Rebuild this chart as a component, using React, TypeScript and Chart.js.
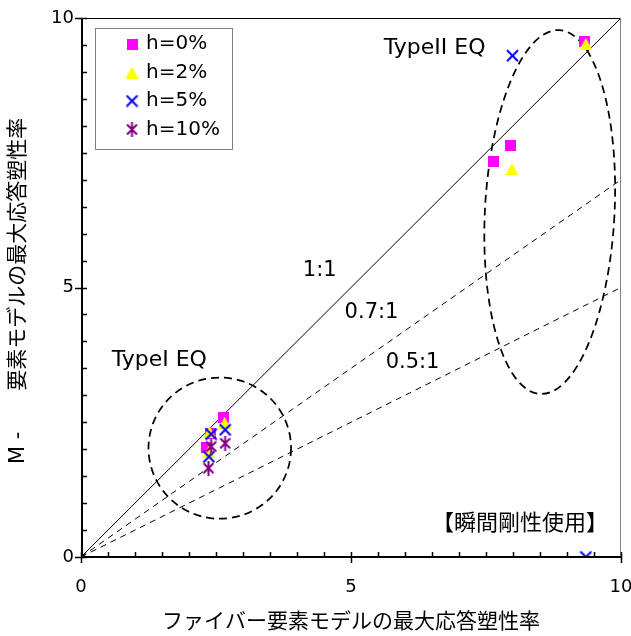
import { useEffect, useRef } from "react";
import { Chart, registerables } from "chart.js";

Chart.register(...registerables);

// Series: maximum ductility ratio (fiber model on x, M-N element model on y)
const seriesLabels = ["h=0%", "h=2%", "h=5%", "h=10%"];
const h0X = [2.64, 2.40, 2.33, 9.33, 7.96, 7.63];
const h0Y = [2.59, 2.30, 2.04, 9.57, 7.64, 7.34];
const h2X = [2.66, 2.38, 2.36, 9.35, 7.98];
const h2Y = [2.49, 2.32, 1.95, 9.52, 7.20];
const h5X = [2.67, 2.41, 2.37, 7.99, 9.35];
const h5Y = [2.36, 2.28, 1.86, 9.30, 0.0];
const h10X = [2.67, 2.41, 2.36];
const h10Y = [2.11, 2.05, 1.65];

// Reference ratio lines y = r * x
const ratioLabels = ["1:1", "0.7:1", "0.5:1"];
const ratioValues = [1, 0.7, 0.5];

// Axis range and labelled ticks
const axisMin = 0;
const axisMax = 10;
const tickValues = [0, 5, 10];
const minorStep = 0.5;

const xTitle = "ファイバー要素モデルの最大応答塑性率";
const yTitle = "M - 　  要素モデルの最大応答塑性率 ";

// Earthquake groups, outlined by dashed ellipses (data units)
const eqGroups = [
  { label: "TypeI EQ", cx: 2.57, cy: 2.02, rx: 1.32, ry: 1.31, rot: 0, lx: 1.45, ly: 3.65 },
  { label: "TypeII EQ", cx: 8.68, cy: 6.4, rx: 1.2, ry: 3.38, rot: 3, lx: 6.55, ly: 9.44 },
];

// Free text notes placed in data units
const notes = [
  { text: ratioLabels[0], x: 4.42, y: 5.32, size: 21 },
  { text: ratioLabels[1], x: 5.38, y: 4.53, size: 21 },
  { text: ratioLabels[2], x: 6.14, y: 3.6, size: 21 },
  { text: "【瞬間剛性使用】", x: 8.13, y: 0.65, size: 22 },
];

const FONT = "'DejaVu Sans', 'Noto Sans CJK JP', sans-serif";
const JP_FONT = "'Noto Sans CJK JP', 'DejaVu Sans', sans-serif";

function markerCanvas(kind: string, color: string): HTMLCanvasElement {
  const c = document.createElement("canvas");
  const g = c.getContext("2d") as CanvasRenderingContext2D;
  if (kind === "square") {
    c.width = 11; c.height = 11;
    g.fillStyle = color;
    g.fillRect(0, 0, 11, 11);
  } else if (kind === "triangle") {
    c.width = 13; c.height = 12;
    g.fillStyle = color;
    g.beginPath();
    g.moveTo(6.5, 0);
    g.lineTo(13, 12);
    g.lineTo(0, 12);
    g.closePath();
    g.fill();
  } else if (kind === "x") {
    c.width = 13; c.height = 13;
    g.strokeStyle = color;
    g.lineWidth = 2;
    g.beginPath();
    g.moveTo(1, 1); g.lineTo(12, 12);
    g.moveTo(12, 1); g.lineTo(1, 12);
    g.stroke();
  } else {
    c.width = 13; c.height = 15;
    g.strokeStyle = color;
    g.lineWidth = 2;
    g.beginPath();
    g.moveTo(6.5, 0); g.lineTo(6.5, 15);
    g.moveTo(1.5, 2.5); g.lineTo(11.5, 12.5);
    g.moveTo(11.5, 2.5); g.lineTo(1.5, 12.5);
    g.stroke();
  }
  return c;
}

function pts(xs: number[], ys: number[]) {
  return xs.map((x, i) => ({ x, y: ys[i] }));
}

export default function App() {
  const ref = useRef<HTMLCanvasElement | null>(null);

  useEffect(() => {
    if (!ref.current) return;
    const markers = [
      markerCanvas("square", "#FF00FF"),
      markerCanvas("triangle", "#FFFF00"),
      markerCanvas("x", "#0000FF"),
      markerCanvas("asterisk", "#800080"),
    ];
    const series = [pts(h0X, h0Y), pts(h2X, h2Y), pts(h5X, h5Y), pts(h10X, h10Y)];

    const scatterSets = series.map((data, i) => ({
      type: "scatter" as const,
      label: seriesLabels[i],
      data,
      pointStyle: markers[i],
      pointRadius: 6,
      order: 4 - i,
      showLine: false,
    }));

    const lineSets = ratioValues.map((r, i) => ({
      type: "line" as const,
      label: ratioLabels[i],
      data: [
        { x: axisMin, y: axisMin * r },
        { x: axisMax, y: axisMax * r },
      ],
      borderColor: "#000",
      borderWidth: 1,
      borderDash: r === 1 ? [] : [6, 5],
      pointRadius: 0,
      fill: false,
      order: 10 + i,
    }));

    const decor = {
      id: "decor",
      beforeDatasetsDraw(chart: any) {
        const { ctx, scales } = chart;
        const xs = scales.x, ys = scales.y;
        ctx.save();
        ctx.strokeStyle = "#000";
        ctx.lineWidth = 1.75;
        ctx.setLineDash([8, 5]);
        eqGroups.forEach((g) => {
          const px = xs.getPixelForValue(g.cx);
          const py = ys.getPixelForValue(g.cy);
          const rx = Math.abs(xs.getPixelForValue(g.cx + g.rx) - px);
          const ry = Math.abs(ys.getPixelForValue(g.cy + g.ry) - py);
          ctx.beginPath();
          ctx.ellipse(px, py, rx, ry, (g.rot * Math.PI) / 180, 0, Math.PI * 2);
          ctx.stroke();
        });
        ctx.restore();
      },
      afterDatasetsDraw(chart: any) {
        const { ctx, scales } = chart;
        const xs = scales.x, ys = scales.y;
        ctx.save();
        ctx.fillStyle = "#000";
        ctx.textAlign = "center";
        ctx.textBaseline = "middle";
        ctx.font = `22px ${FONT}`;
        eqGroups.forEach((g) => {
          ctx.fillText(g.label, xs.getPixelForValue(g.lx), ys.getPixelForValue(g.ly));
        });
        notes.forEach((n) => {
          const fam = /[^\x00-\x7f]/.test(n.text) ? JP_FONT : FONT;
          ctx.font = `${n.size}px ${fam}`;
          ctx.fillText(n.text, xs.getPixelForValue(n.x), ys.getPixelForValue(n.y));
        });
        ctx.restore();
      },
      afterDraw(chart: any) {
        const { ctx, scales, chartArea } = chart;
        const xs = scales.x, ys = scales.y;
        const { left, right, top, bottom } = chartArea;
        ctx.save();
        // frame
        ctx.lineWidth = 1;
        ctx.strokeStyle = "#000";
        ctx.beginPath();
        ctx.moveTo(left, top + 0.5);
        ctx.lineTo(right, top + 0.5);
        ctx.stroke();
        ctx.strokeStyle = "#808080";
        ctx.beginPath();
        ctx.moveTo(right - 0.5, top);
        ctx.lineTo(right - 0.5, bottom);
        ctx.stroke();
        // axes
        ctx.strokeStyle = "#000";
        ctx.lineWidth = 2;
        ctx.beginPath();
        ctx.moveTo(left, bottom);
        ctx.lineTo(right, bottom);
        ctx.moveTo(left + 1, top);
        ctx.lineTo(left + 1, bottom);
        ctx.stroke();
        // tick marks
        ctx.lineWidth = 1.5;
        ctx.beginPath();
        const n = Math.round((axisMax - axisMin) / minorStep);
        for (let i = 0; i <= n; i++) {
          const v = axisMin + i * minorStep;
          const major = tickValues.includes(v);
          const px = Math.round(xs.getPixelForValue(v)) + 0.5;
          ctx.moveTo(px, bottom - 5);
          ctx.lineTo(px, bottom + (major ? 6 : 0));
          const py = Math.round(ys.getPixelForValue(v)) + 0.5;
          ctx.moveTo(left + 6, py);
          ctx.lineTo(left - (major ? 6 : 0), py);
        }
        ctx.stroke();
        // legend
        const bx = 95, by = 28, bw = 137, bh = 121;
        ctx.fillStyle = "#fff";
        ctx.fillRect(bx, by, bw, bh);
        ctx.strokeStyle = "#808080";
        ctx.lineWidth = 1;
        ctx.strokeRect(bx + 0.5, by + 0.5, bw, bh);
        ctx.fillStyle = "#000";
        ctx.font = `20px ${FONT}`;
        ctx.textAlign = "left";
        ctx.textBaseline = "middle";
        seriesLabels.forEach((lab, i) => {
          const cy = by + 16 + i * 28.5;
          const m = markers[i];
          ctx.drawImage(m, 132 - m.width / 2, cy - m.height / 2);
          ctx.fillText(lab, 146, cy);
        });
        ctx.restore();
      },
    };

    const chart = new Chart(ref.current, {
      type: "scatter",
      data: { datasets: [...scatterSets, ...lineSets] as any },
      options: {
        animation: false,
        responsive: false,
        layout: { padding: { top: 18, right: 10, left: 0, bottom: 0 } },
        plugins: { legend: { display: false }, tooltip: { enabled: false } },
        scales: {
          x: {
            type: "linear",
            min: axisMin,
            max: axisMax,
            afterBuildTicks: (s: any) => {
              s.ticks = tickValues.map((v) => ({ value: v }));
            },
            afterFit: (s: any) => {
              s.height = 79;
              s.paddingLeft = 0;
              s.paddingRight = 0;
            },
            grid: { display: false, drawTicks: false },
            border: { display: false },
            ticks: { color: "#000", font: { family: FONT, size: 18 }, padding: 20, maxRotation: 0 },
            title: {
              display: true,
              text: xTitle,
              color: "#000",
              font: { family: FONT, size: 21 },
              padding: { top: 0, bottom: 1 },
            },
          },
          y: {
            type: "linear",
            min: axisMin,
            max: axisMax,
            afterBuildTicks: (s: any) => {
              s.ticks = tickValues.map((v) => ({ value: v }));
            },
            afterFit: (s: any) => {
              s.width = 81;
            },
            grid: { display: false, drawTicks: false },
            border: { display: false },
            ticks: { color: "#000", font: { family: FONT, size: 18 }, padding: 7 },
            title: {
              display: true,
              text: yTitle,
              color: "#000",
              font: { family: FONT, size: 21 },
              padding: { top: 6, bottom: 0 },
            },
          },
        },
      },
      plugins: [decor],
    });
    return () => chart.destroy();
  }, []);

  return (
    <div style={{ position: "fixed", left: 0, top: 0, width: 631, height: 636, background: "#fff" }}>
      <canvas ref={ref} width={631} height={636} style={{ display: "block" }} />
    </div>
  );
}
